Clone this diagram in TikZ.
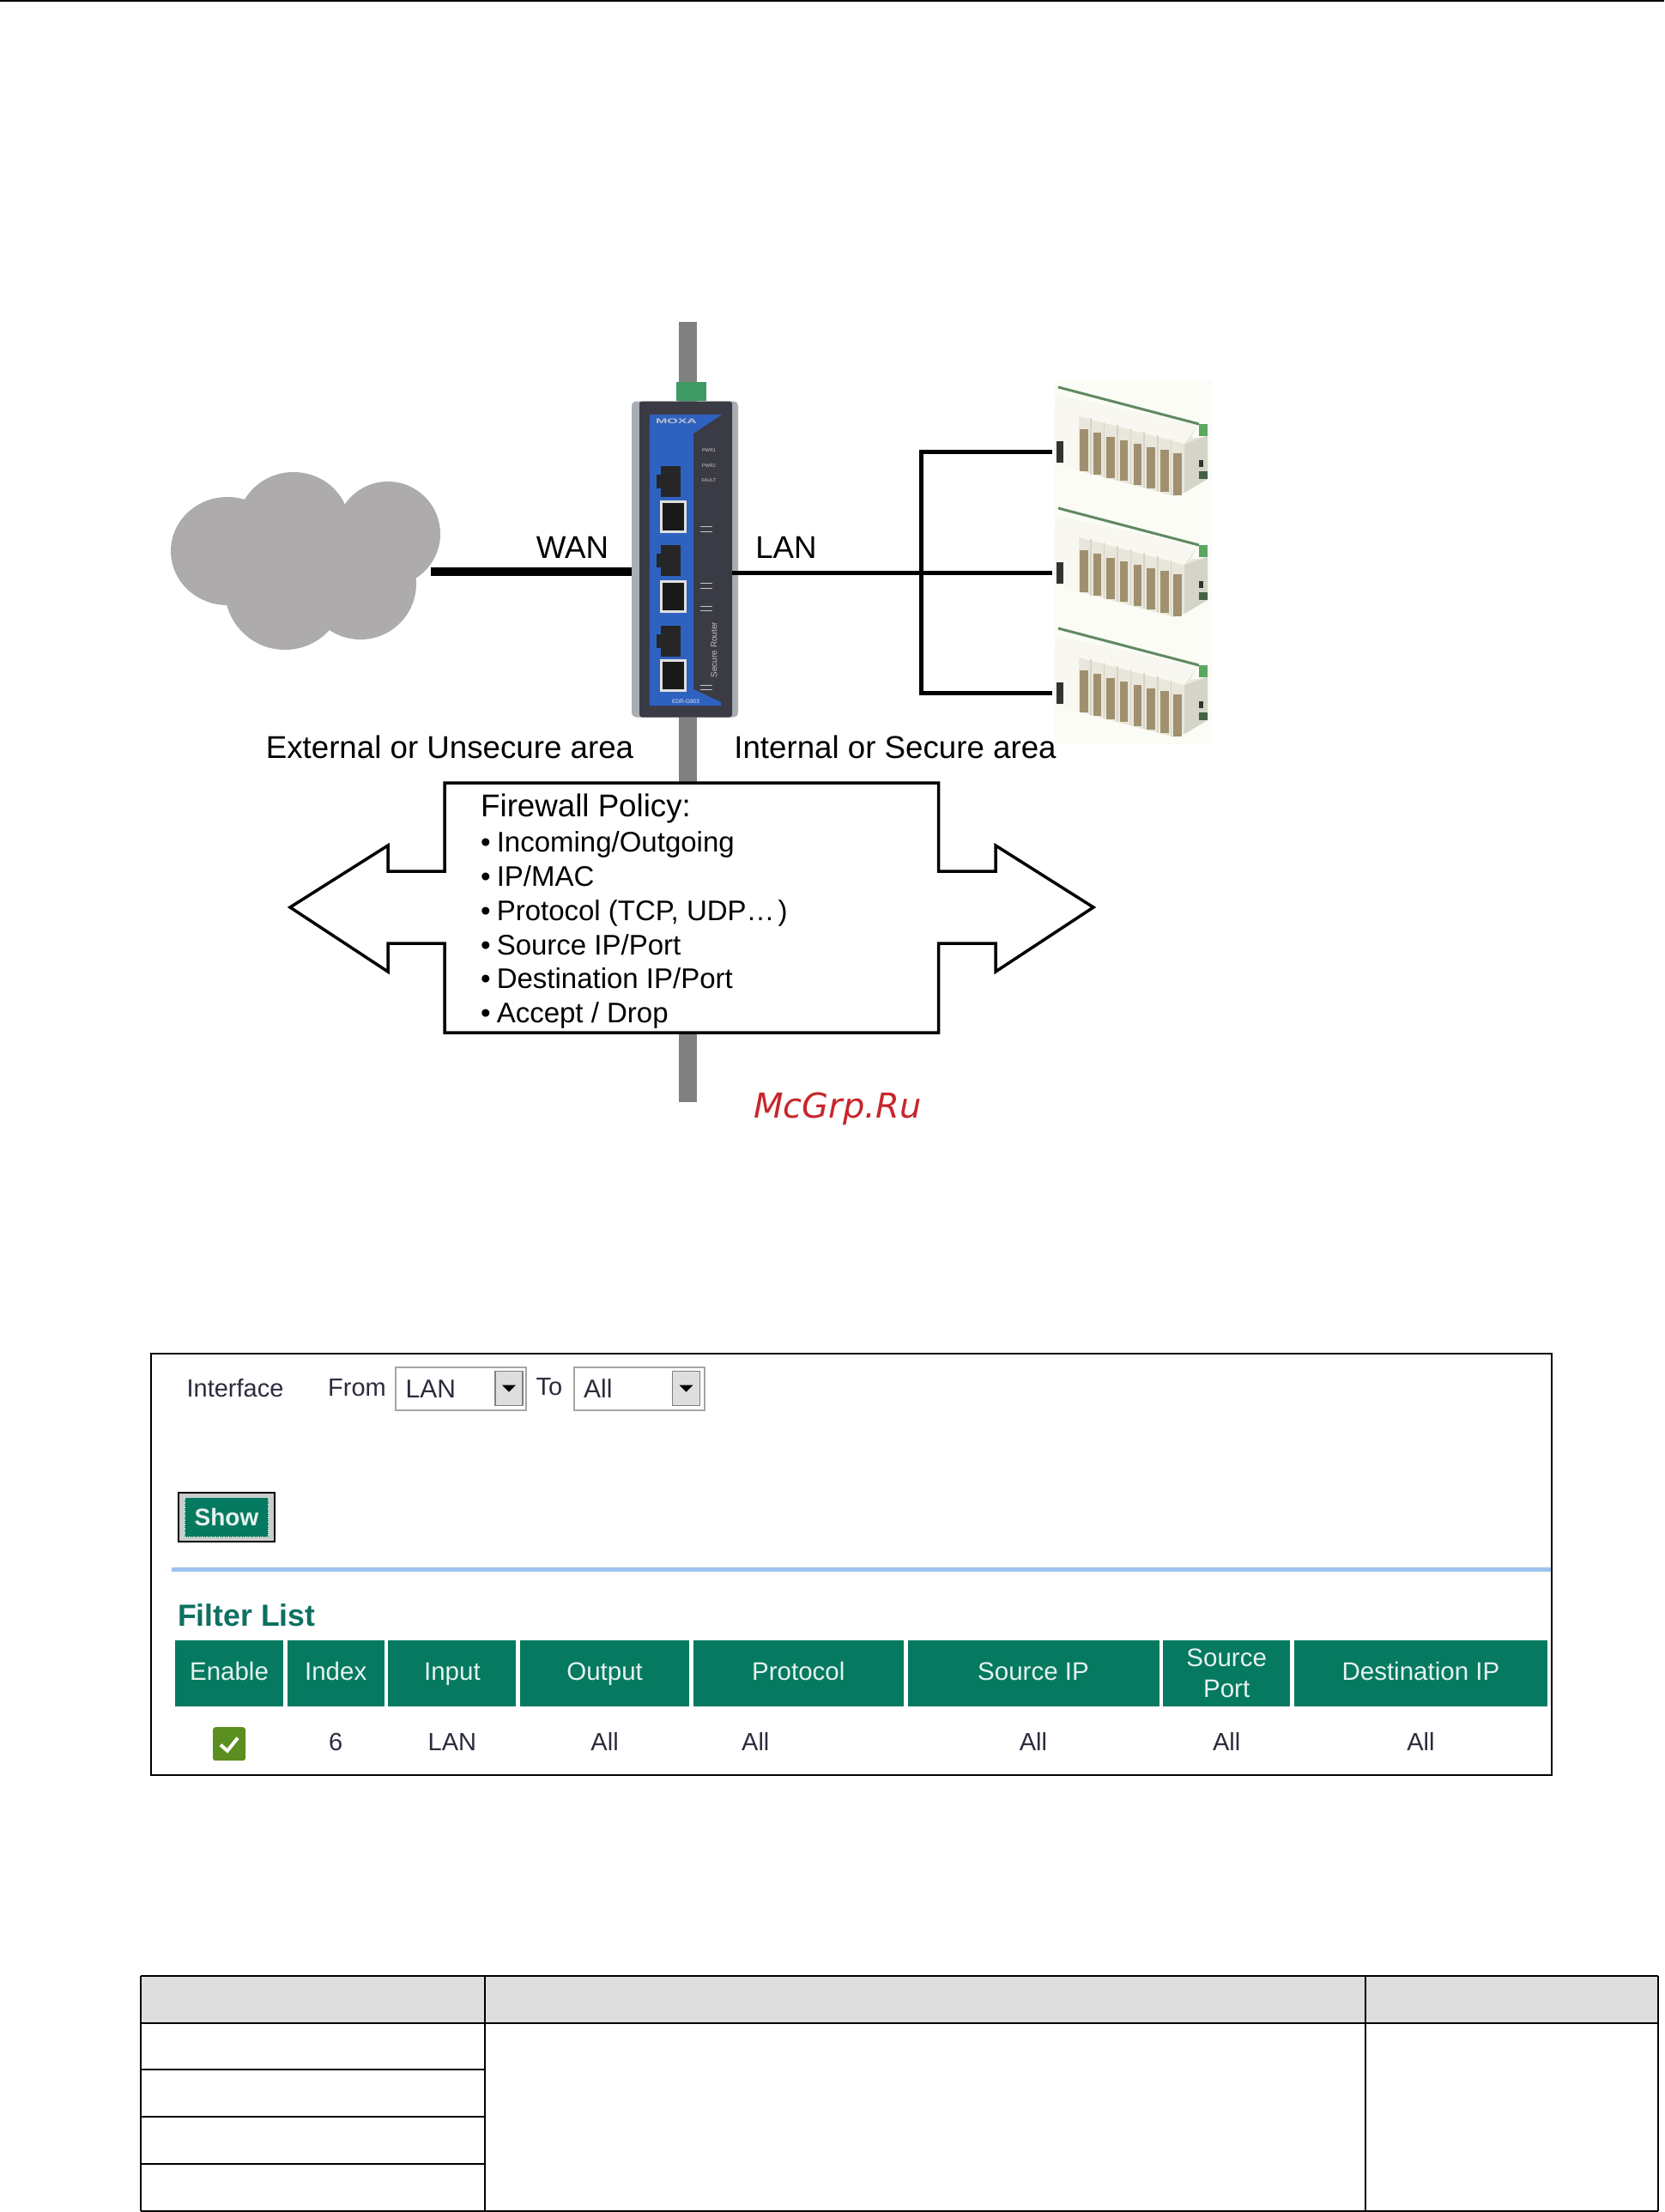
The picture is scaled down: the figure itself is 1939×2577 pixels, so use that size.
\documentclass[tikz,border=0pt]{standalone}
\usepackage{fontspec}
\setmainfont{Liberation Sans}
\newfontfamily\markfont{DejaVu Sans}
\usetikzlibrary{positioning}
\definecolor{railgray}{HTML}{808080}
\definecolor{cloudgray}{HTML}{ADABAC}
\definecolor{casegray}{HTML}{A9AEB3}
\definecolor{casedark}{HTML}{3B3B45}
\definecolor{panelblue}{HTML}{2F62C0}
\definecolor{terminalgreen}{HTML}{3E9A62}
\definecolor{headgreen}{HTML}{057A60}
\definecolor{titlegreen}{HTML}{0E7060}
\definecolor{webtext}{HTML}{2E2A3C}
\definecolor{webblue}{HTML}{9CC3EE}
\definecolor{checkgreen}{HTML}{5A8F1F}
\definecolor{markred}{HTML}{C8262C}
\definecolor{modulebg}{HTML}{FCFCF6}
\definecolor{modulebody}{HTML}{E9E7DC}
\definecolor{moduletop}{HTML}{F8F7F1}
\definecolor{moduleshade}{HTML}{D5D4C8}
\definecolor{slotbrown}{HTML}{A0906F}
\definecolor{stripgreen}{HTML}{5F8A62}
\definecolor{blockgreen}{HTML}{5AA860}
\newcommand{\fsize}[1]{\fontsize{#1}{#1}\selectfont}

\begin{document}
\begin{tikzpicture}[x=1pt,y=-1pt]
  \tikzset{wanline/.style={line width=10pt}}
  \tikzset{lanline/.style={line width=5pt}}
  \tikzset{bigtext/.style={font=\fsize{36.7}, inner sep=0pt}}
  \tikzset{policytitle/.style={font=\fsize{36.7}, inner sep=0pt, text height=26.5pt, text depth=8pt, anchor=north west}}
  \tikzset{policyitem/.style={font=\fsize{33}, inner sep=0pt, text height=24pt, text depth=7pt}}
  \tikzset{sfpport/.style={fill=black!85, minimum width=23pt, minimum height=36pt, inner sep=0pt}}
  \tikzset{rjport/.style={fill=black!90, draw=black!12, line width=3pt, minimum width=28pt, minimum height=35pt, inner sep=0pt}}
  \tikzset{portmark/.style={draw=casegray!70, line width=1pt}}
  \tikzset{webtextnode/.style={font=\fsize{29}, text=webtext, inner sep=0pt}}
  \tikzset{selectbox/.style={draw=black!35, line width=2pt, minimum width=152pt, minimum height=50pt, inner sep=0pt}}
  \tikzset{selectbtn/.style={fill=black!13, draw=black!50, line width=1.5pt, minimum width=32pt, minimum height=40pt, inner sep=0pt}}
  \tikzset{tablehead/.style={fill=headgreen, text=white!90!headgreen, font=\fsize{29.5}, align=center, minimum height=77pt, inner sep=0pt, outer sep=0pt}}
  \tikzset{headline/.style={tablehead, text height=21pt, text depth=6pt}}
  \tikzset{rowtext/.style={font=\fsize{29}, text=webtext, inner sep=0pt, text height=21pt, text depth=7pt}}
  \tikzset{grid/.style={line width=2pt}}
  \tikzset{iomodule/.pic={
      \fill[modulebg] (9,3) rectangle (192,145);
      \fill[modulebody] (8,37) -- (13,20) -- (175,55) -- (167,70) -- (187,67) -- (187,117) -- (160,133) -- (148,137) -- (37,107) -- (8,97) -- cycle;
      \fill[moduleshade] (160,76) -- (187,67) -- (187,117) -- (160,133) -- cycle;
      \fill[moduletop] (13,20) -- (175,55) -- (160,76) -- (37,44) -- (8,37) -- cycle;
      \fill[moduletop] (8,37) -- (37,44) -- (37,107) -- (8,97) -- cycle;
      \draw[moduleshade, line width=1.5pt] (51,46) -- (51,112) (66.5,50) -- (66.5,116) (82,54) -- (82,119) (97.5,58) -- (97.5,123) (113,62) -- (113,127) (129,66) -- (129,131) (144.5,70) -- (144.5,135);
      \draw[stripgreen, line width=3pt] (13,10) -- (177,53);
      \fill[blockgreen] (177,53) rectangle (187,67);
      \fill[slotbrown] (38,59) rectangle (48,108);
      \fill[slotbrown] (54,63) rectangle (63,112);
      \fill[slotbrown] (69,68) rectangle (79,116);
      \fill[slotbrown] (85,72) rectangle (94,119);
      \fill[slotbrown] (101,76) rectangle (110,124);
      \fill[slotbrown] (116,80) rectangle (126,128);
      \fill[slotbrown] (132,83) rectangle (142,132);
      \fill[slotbrown] (147,87) rectangle (157,136);
      \fill[black!80] (177,95) rectangle (182,103);
      \fill[stripgreen!70!black] (177,108) rectangle (187,117);
      \node[fill=black!80, minimum width=8pt, minimum height=25pt, inner sep=0pt] (port) at (15,85) {};
  }}
  \useasboundingbox (0,0) rectangle (1939,2577);
  \draw[line width=2pt] (0,1) -- (1939,1);
  % rail and device
  \fill[railgray] (791,375) rectangle (812,1284);
  \fill[cloudgray] (265,642) ellipse [x radius=66, y radius=63];
  \fill[cloudgray] (342,612) ellipse [x radius=65, y radius=62];
  \fill[cloudgray] (452,622) ellipse [x radius=61, y radius=61];
  \fill[cloudgray] (332,687) ellipse [x radius=70, y radius=70];
  \fill[cloudgray] (420,680) ellipse [x radius=65, y radius=65];
  \fill[cloudgray] (300,610) rectangle (440,700);
  \coordinate (cloudport) at (502,666);
  \node[fill=terminalgreen, minimum width=35pt, minimum height=22pt, inner sep=0pt] (terminal) at (805.5,456) {};
  \node[fill=casegray, rounded corners=5pt, minimum width=124pt, minimum height=368pt, inner sep=0pt] (device) at (798,651.5) {};
  \node[fill=casedark, rounded corners=3pt, minimum width=108pt, minimum height=368pt, inner sep=0pt] (deviceface) at (799,651.5) {};
  \fill[panelblue] (757,483) -- (841,483) -- (808,505) -- (808,803) -- (840,818) -- (840,822) -- (757,822) -- cycle;
  \node[font=\bfseries\fsize{8}, text=blue!15!black!25, xscale=2, inner sep=0pt] (moxa) at (788,490.5) {MOXA};
  \node[sfpport] (sfp1) at (781.5,560.5) {};
  \fill[black!85] ([shift={(-17,-8)}]sfp1.center) rectangle ([shift={(-11,8)}]sfp1.center);
  \node[rjport] (rj1) at (784.5,602) {};
  \node[sfpport] (sfp2) at (781.5,652.5) {};
  \fill[black!85] ([shift={(-17,-8)}]sfp2.center) rectangle ([shift={(-11,8)}]sfp2.center);
  \node[rjport] (rj2) at (784.5,695) {};
  \node[sfpport] (sfp3) at (781.5,746.5) {};
  \fill[black!85] ([shift={(-17,-8)}]sfp3.center) rectangle ([shift={(-11,8)}]sfp3.center);
  \node[rjport] (rj3) at (784.5,787) {};
  \node[font=\fsize{5.5}, text=black!20, inner sep=0pt] (pwr1) at (826,525) {PWR1};
  \node[font=\fsize{5.5}, text=black!20, inner sep=0pt] (pwr2) at (826,543) {PWR2};
  \node[font=\fsize{5.5}, text=black!20, inner sep=0pt] (fault) at (826,560) {FAULT};
  \draw[portmark] (816,613) -- (830,613) (816,619) -- (830,619);
  \draw[portmark] (816,679) -- (830,679) (816,685) -- (830,685);
  \draw[portmark] (816,706) -- (830,706) (816,711) -- (830,711);
  \draw[portmark] (816,798) -- (830,798) (816,803) -- (830,803);
  \node[font=\fsize{10}, text=black!25, rotate=90, inner sep=0pt] (routername) at (832,757) {Secure Router};
  \node[font=\fsize{6.5}, text=white!85!panelblue, inner sep=0pt] (modelname) at (799,817) {EDR-G903};
  % modules
  \pic (module1) at (1220,441) {iomodule};
  \pic (module2) at (1220,582) {iomodule};
  \pic (module3) at (1220,722) {iomodule};
  \coordinate (hub) at (1073,667);
  \draw[wanline] (cloudport) -- (cloudport -| device.west);
  \draw[lanline] (hub -| deviceface.east) -- (hub);
  \draw[lanline, shorten >=5pt] (hub) |- (module1port);
  \draw[lanline, shorten >=5pt] (hub) -- (module2port);
  \draw[lanline, shorten >=5pt] (hub) |- (module3port);
  \node[bigtext] (wanlabel) at (667,638) {WAN};
  \node[bigtext] (lanlabel) at (916,638) {LAN};
  \node[bigtext] (extlabel) at (524,870) {External or Unsecure area};
  \node[bigtext] (intlabel) at (1043,870) {Internal or Secure area};
  % firewall policy
  \draw[fill=white, line width=3.5pt] (518,912) -- (1093.5,912) -- (1093.5,1015) -- (1160,1015) -- (1160,985) -- (1274,1057) -- (1160,1132) -- (1160,1099) -- (1093.5,1099) -- (1093.5,1203) -- (518,1203) -- (518,1099) -- (452,1099) -- (452,1132) -- (338,1057) -- (452,985) -- (452,1015) -- (518,1015) -- cycle;
  \node[policytitle] (policy) at (560,925) {Firewall Policy:};
  \node[policyitem, below=8.5pt of policy.south west, anchor=north west] (item1) {•\hspace{7pt}Incoming/Outgoing};
  \node[policyitem, below=8.4pt of item1.south west, anchor=north west] (item2) {•\hspace{7pt}IP/MAC};
  \node[policyitem, below=8.4pt of item2.south west, anchor=north west] (item3) {•\hspace{7pt}Protocol (TCP, UDP…\hspace{4pt})};
  \node[policyitem, below=8.4pt of item3.south west, anchor=north west] (item4) {•\hspace{7pt}Source IP/Port};
  \node[policyitem, below=8.4pt of item4.south west, anchor=north west] (item5) {•\hspace{7pt}Destination IP/Port};
  \node[policyitem, below=8.4pt of item5.south west, anchor=north west] (item6) {•\hspace{7pt}Accept / Drop};
  \node[font=\markfont\itshape\fsize{40}, text=markred, inner sep=0pt] (watermark) at (976,1292) {McGrp.Ru};
  % web page
  \draw[line width=2pt] (176,1577) rectangle (1808,2068);
  \node[webtextnode] (iface) at (274,1617) {Interface};
  \node[webtextnode] (fromlabel) at (416,1617) {From};
  \node[selectbox] (fromselect) at (537,1617.5) {};
  \node[webtextnode, font=\fsize{30}, anchor=west] (fromvalue) at (472.5,1618) {LAN};
  \node[selectbtn] (frombtn) at (593,1617.5) {};
  \fill ([shift={(-8,-4)}]frombtn.center) -- ([shift={(8,-4)}]frombtn.center) -- ([shift={(0,4)}]frombtn.center) -- cycle;
  \node[webtextnode] (tolabel) at (640,1616) {To};
  \node[selectbox] (toselect) at (744.5,1617.5) {};
  \node[webtextnode, font=\fsize{30}, anchor=west] (tovalue) at (680,1618) {All};
  \node[selectbtn] (tobtn) at (799.5,1617.5) {};
  \fill ([shift={(-8,-4)}]tobtn.center) -- ([shift={(8,-4)}]tobtn.center) -- ([shift={(0,4)}]tobtn.center) -- cycle;
  \node[draw=black, fill=black!20, line width=2.5pt, minimum width=112pt, minimum height=57pt, inner sep=0pt] (showbtn) at (264,1767.5) {};
  \node[fill=headgreen, draw=white!80!headgreen, densely dotted, line width=1.5pt, minimum width=98pt, minimum height=46pt, inner sep=0pt, text=white!90!headgreen, font=\bfseries\fsize{28}] (showlabel) at (264,1767.5) {Show};
  \fill[webblue] (200,1825.5) rectangle (1807,1830.5);
  \node[font=\bfseries\fsize{35.6}, text=titlegreen, inner sep=0pt, anchor=west] (filterlist) at (207,1882) {Filter List};
  \node[headline, minimum width=126pt] (headenable) at (267,1949.5) {Enable};
  \node[headline, minimum width=113pt, right=4.7pt of headenable] (headindex) {Index};
  \node[headline, minimum width=149pt, right=4.7pt of headindex] (headinput) {Input};
  \node[headline, minimum width=197pt, right=4.7pt of headinput] (headoutput) {Output};
  \node[headline, minimum width=245pt, right=4.7pt of headoutput] (headprotocol) {Protocol};
  \node[headline, minimum width=293pt, right=4.7pt of headprotocol] (headsourceip) {Source IP};
  \node[tablehead, minimum width=148pt, right=4.7pt of headsourceip] (headsourceport) {Source\\[6pt]Port};
  \node[headline, minimum width=295pt, right=4.7pt of headsourceport] (headdestip) {Destination IP};
  \node[fill=checkgreen, rounded corners=3pt, minimum width=38pt, minimum height=39pt, inner sep=0pt, below=24pt of headenable] (enablebox) {};
  \draw[white, line width=4pt] ([shift={(-10,1)}]enablebox.center) -- ([shift={(-2,8)}]enablebox.center) -- ([shift={(10,-7)}]enablebox.center);
  \node[rowtext, below=30pt of headindex] (rowindex) {6};
  \node[rowtext, below=30pt of headinput] (rowinput) {LAN};
  \node[rowtext, below=30pt of headoutput] (rowoutput) {All};
  \node[rowtext, below=30pt of headprotocol, xshift=-50pt] (rowprotocol) {All};
  \node[rowtext, below=30pt of headsourceip] (rowsourceip) {All};
  \node[rowtext, below=30pt of headsourceport] (rowsourceport) {All};
  \node[rowtext, below=30pt of headdestip] (rowdestip) {All};
  % bottom table
  \fill[black!13] (164,2302) rectangle (1932,2357);
  \draw[grid] (164,2302) -- (1932,2302);
  \draw[grid] (164,2357) -- (1932,2357);
  \draw[grid] (164,2411) -- (565,2411);
  \draw[grid] (164,2466) -- (565,2466);
  \draw[grid] (164,2521) -- (565,2521);
  \draw[grid] (164,2576) -- (1932,2576);
  \draw[grid] (164,2302) -- (164,2576);
  \draw[grid] (565,2302) -- (565,2576);
  \draw[grid] (1591,2302) -- (1591,2576);
  \draw[grid] (1932,2302) -- (1932,2576);
\end{tikzpicture}
\end{document}
